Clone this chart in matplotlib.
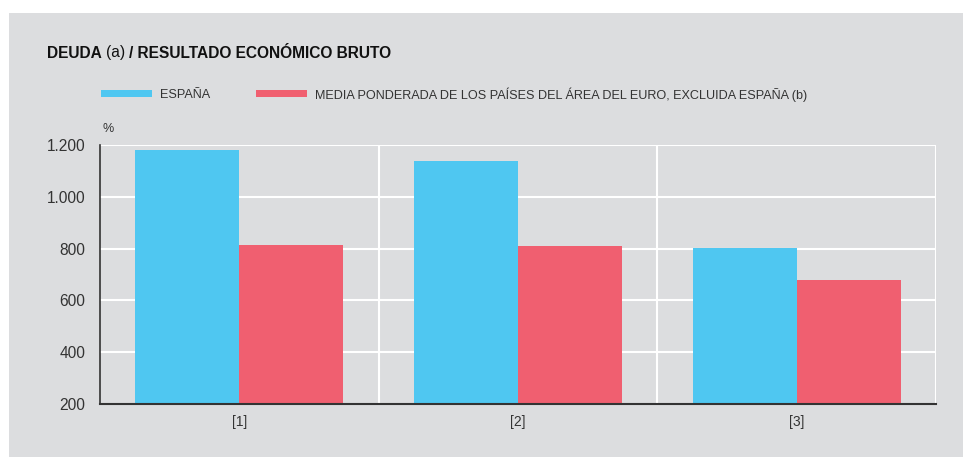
import matplotlib.pyplot as plt
import matplotlib.patches as mpatches
import numpy as np

# Data
categories = ["[1]", "[2]", "[3]"]
espana = [1180, 1138, 802]
media_euro = [814, 811, 678]
yticks = [200, 400, 600, 800, 1000, 1200]
ytick_labels = ["200", "400", "600", "800", "1.000", "1.200"]

plt.rcParams['font.family'] = ['Liberation Sans', 'DejaVu Sans']

BG = "#dcdddf"
BLUE = "#4fc7f1"
RED = "#f05f70"
TXT = "#333333"

fig = plt.figure(figsize=(9.63, 4.57), dpi=100, facecolor="white")
W, H = 963, 457
fig.patches.append(mpatches.Rectangle((9 / W, 0), 1 - 9 / W, 1 - 13 / H,
                                      transform=fig.transFigure, facecolor=BG,
                                      edgecolor="none", zorder=-10))

ax = fig.add_axes([100 / W, 1 - 404 / H, 836 / W, 259 / H])
ax.set_facecolor(BG)

x = np.arange(len(categories))
w = 0.373
ax.bar(x - w / 2, np.array(espana) - 200, w, bottom=200, color=BLUE, zorder=3)
ax.bar(x + w / 2, np.array(media_euro) - 200, w, bottom=200, color=RED, zorder=3)

ax.set_xlim(-0.5, len(categories) - 0.5)
ax.set_ylim(200, 1200)
ax.set_yticks(yticks)
ax.set_yticklabels(ytick_labels, fontsize=11.2, color=TXT)
ax.set_xticks(x)
ax.set_xticklabels(categories, fontsize=10, color=TXT)
ax.tick_params(axis="x", length=0, pad=8)
ax.tick_params(axis="y", length=0, pad=10.5)

for yv in yticks[1:]:
    ax.axhline(yv, color="white", lw=1.5, zorder=1)
for xv in np.arange(0.5, len(categories), 1.0):
    ax.axvline(xv, color="white", lw=1.5, zorder=1)

for s in ["top", "right"]:
    ax.spines[s].set_visible(False)
ax.spines["left"].set_color(TXT)
ax.spines["bottom"].set_color(TXT)
ax.spines["left"].set_linewidth(1.2)
ax.spines["bottom"].set_linewidth(1.5)
ax.spines["left"].set_zorder(4)
ax.spines["bottom"].set_zorder(4)

fig.text(102 / W, 1 - 129 / H, "%", fontsize=9, color=TXT, va="center", ha="left")

# Title: bold / regular / bold pieces placed one after another
fig.canvas.draw()
r = fig.canvas.get_renderer()
xpos = 47
for piece, weight in [("DEUDA ", "bold"), ("(a) ", "normal"),
                      ("/ RESULTADO ECONÓMICO BRUTO", "bold")]:
    t = fig.text(xpos / W, 1 - 53 / H, piece, fontsize=11.2, fontweight=weight,
                 color="#111111", va="center", ha="left")
    xpos += t.get_window_extent(r).width

# Legend
leg_y = 1 - 93 / H
for x0, label, col in [(101, "ESPAÑA", BLUE),
                       (256, "MEDIA PONDERADA DE LOS PAÍSES DEL ÁREA DEL EURO, EXCLUIDA ESPAÑA (b)", RED)]:
    fig.patches.append(mpatches.Rectangle((x0 / W, leg_y - 3.5 / H), 51 / W, 7 / H,
                                          transform=fig.transFigure, facecolor=col,
                                          edgecolor="none"))
    fig.text((x0 + 59) / W, leg_y - 1.5 / H, label, fontsize=9.1, color=TXT,
             va="center", ha="left")

fig.savefig("out.png", dpi=100, facecolor="white")
